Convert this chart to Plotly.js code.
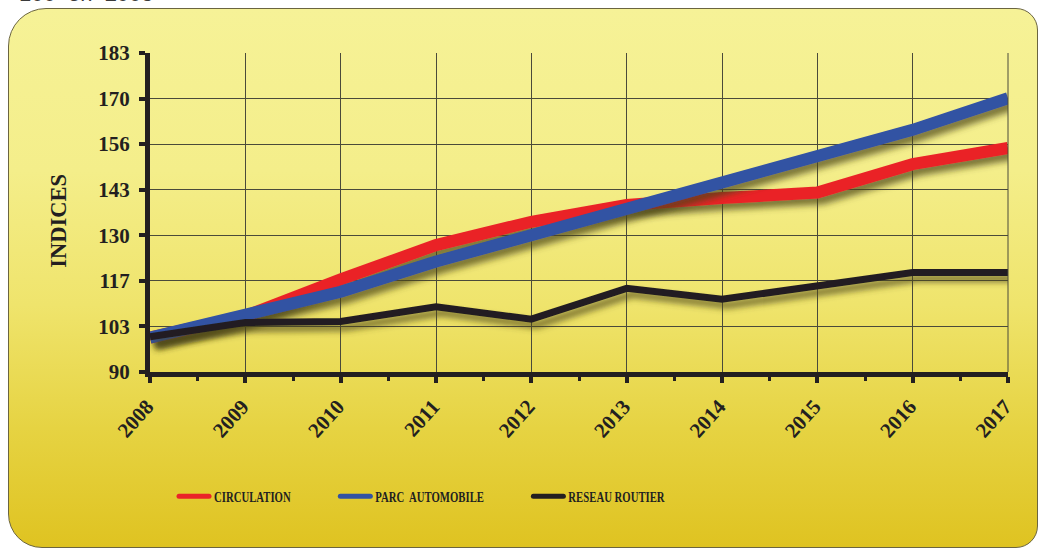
<!DOCTYPE html>
<html>
<head>
<meta charset="utf-8">
<script src="https://cdn.plot.ly/plotly-3.0.1.min.js"></script>
<style>
  html, body { margin: 0; padding: 0; background: #ffffff; }
  #wrap { position: relative; width: 1039px; height: 550px; overflow: hidden; background: #ffffff; }
  #panel {
    position: absolute; left: 8px; top: 8px; width: 1028px; height: 538px;
    border: 1px solid #6b6540; border-radius: 38px 22px 22px 34px;
    background: linear-gradient(to bottom, #f6f297 0%, #f4ee8a 30%, #efe46c 55%, #e6d342 78%, #dfc321 100%);
  }
  #chart { position: absolute; left: 0; top: 0; width: 1039px; height: 550px; }
  #chart text.legendtext,
  #chart .infolayer text:not(.annotation-text) {
    transform-box: fill-box;
    transform-origin: 0% 50%;
    transform: scaleX(0.74);
  }
  #chart .legendlines path {
    stroke-width: 5px !important;
    stroke-linecap: round;
  }
  #chart .scatterlayer .trace { filter: url(#lineShadow); }
</style>
</head>
<body>
<svg width="0" height="0" style="position:absolute">
  <defs>
    <filter id="lineShadow" x="-10%" y="-10%" width="130%" height="140%">
      <feGaussianBlur in="SourceAlpha" stdDeviation="3"/>
      <feOffset dx="5" dy="6" result="ob"/>
      <feFlood flood-color="#4a4418" flood-opacity="0.7"/>
      <feComposite in2="ob" operator="in"/>
      <feMerge><feMergeNode/><feMergeNode in="SourceGraphic"/></feMerge>
    </filter>
  </defs>
</svg>
<div id="wrap">
  <div id="panel"></div>
  <div id="chart"></div>
</div>
<script>
const years = [2008, 2009, 2010, 2011, 2012, 2013, 2014, 2015, 2016, 2017];
const circulation = [100, 106.3, 117, 127, 133.8, 138.7, 140.7, 142.3, 150.6, 155.3];
const parcAutomobile = [100, 106.3, 113.4, 122.2, 130, 137.5, 145.5, 153.3, 160.6, 169.8];
const reseauRoutier = [100.3, 104.4, 104.7, 109, 105.4, 114.4, 111.2, 114.9, 119, 119];
const yTickLabels = ['90', '103', '117', '130', '143', '156', '170', '183'];
const yMin = 90, yMax = 183;
const yTickVals = yTickLabels.map((_, i) => yMin + i * (yMax - yMin) / (yTickLabels.length - 1));

const serif = 'Liberation Serif, Times New Roman, serif';

const traces = [
  { x: years, y: circulation, name: 'CIRCULATION', mode: 'lines',
    line: { color: '#ea2328', width: 12 }, legend: 'legend' },
  { x: years, y: parcAutomobile, name: 'PARC  AUTOMOBILE', mode: 'lines',
    line: { color: '#3252a3', width: 12 }, legend: 'legend2' },
  { x: years, y: reseauRoutier, name: 'RESEAU ROUTIER', mode: 'lines',
    line: { color: '#231f20', width: 7 }, legend: 'legend3' }
];

const legendBase = {
  orientation: 'h', yanchor: 'middle', xanchor: 'left', y: -0.39,
  bgcolor: 'rgba(0,0,0,0)', font: { family: serif, size: 14.5, color: '#231f20', weight: 'bold' },
  itemwidth: 30
};

const layout = {
  width: 1039, height: 550,
  margin: { l: 150, r: 31, t: 53, b: 178 },
  paper_bgcolor: 'rgba(0,0,0,0)',
  plot_bgcolor: 'rgba(0,0,0,0)',
  showlegend: true,
  xaxis: {
    range: [2008, 2017], tickvals: years, ticktext: years.map(String),
    tickangle: -48, tickfont: { family: serif, size: 21, color: '#231f20', weight: 'bold' },
    ticklabelstandoff: 3, ticklabelshift: -3,
    showline: true, linecolor: '#231f20', linewidth: 5, mirror: false,
    ticks: 'outside', ticklen: 6, tickwidth: 4, tickcolor: '#231f20',
    showgrid: true, gridcolor: '#4a4a3a', gridwidth: 1,
    minor: { dtick: 0.5, ticks: 'outside', ticklen: 4, tickwidth: 3, tickcolor: '#231f20', showgrid: false },
    zeroline: false, fixedrange: true
  },
  yaxis: {
    range: [yMin, yMax], tickvals: yTickVals, ticktext: yTickLabels,
    tickfont: { family: serif, size: 21, color: '#231f20', weight: 'bold' },
    ticklabelstandoff: 5,
    showline: true, linecolor: '#231f20', linewidth: 5,
    ticks: 'outside', ticklen: 6, tickwidth: 4, tickcolor: '#231f20',
    showgrid: true, gridcolor: '#4a4a3a', gridwidth: 1,
    zeroline: false, fixedrange: true
  },
  shapes: [
    { type: 'line', xref: 'paper', yref: 'paper', x0: 1, x1: 1, y0: 0, y1: 1,
      line: { color: '#4a4a3a', width: 1 } }
  ],
  legend: Object.assign({}, legendBase, { x: 0.028 }),
  legend2: Object.assign({}, legendBase, { x: 0.216 }),
  legend3: Object.assign({}, legendBase, { x: 0.441 }),
  annotations: [
    { text: '100  en  2008', xref: 'paper', yref: 'paper', x: -0.155, y: 1, xanchor: 'left',
      yanchor: 'middle', yshift: 60, showarrow: false,
      font: { family: 'Liberation Sans, Arial, sans-serif', size: 22, color: '#3a3a3a' } },
    { text: 'INDICES', xref: 'paper', yref: 'paper', x: -0.107, y: 0.5, xanchor: 'center',
      yanchor: 'middle', yshift: -8, textangle: -90, showarrow: false,
      font: { family: serif, size: 22.5, color: '#231f20', weight: 'bold' } }
  ]
};

Plotly.newPlot('chart', traces, layout, { displayModeBar: false, staticPlot: true });
</script>
</body>
</html>
